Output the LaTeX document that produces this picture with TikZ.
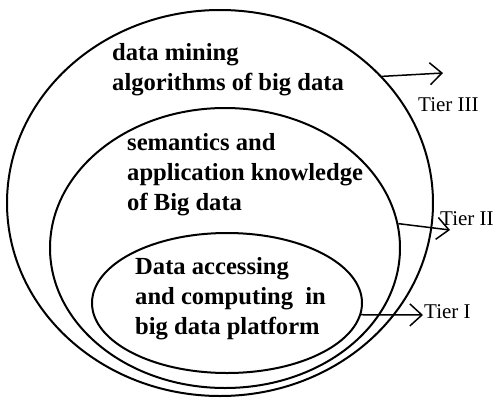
\documentclass[tikz,border=0pt]{standalone}
\usepackage{fontspec}
\setmainfont{Liberation Serif}
\usetikzlibrary{arrows.meta,shapes.geometric}
\tikzset{
  tier/.style={ellipse, draw, line width=2pt, inner sep=0pt},
  tiertext/.style={anchor=north west, align=left, inner sep=0pt, font=\fontsize{24.6}{30}\selectfont\bfseries},
  tierlabel/.style={anchor=base west, inner sep=0pt, font=\fontsize{21}{24}\selectfont},
  tierarrow/.style={line width=1.5pt, -{Straight Barb[length=12pt,width=22pt,line width=1.5pt]}}
}
\begin{document}
\begin{tikzpicture}[x=1pt,y=-1pt]
          \useasboundingbox (0,0) rectangle (496,400);
          \node[tier, minimum width=426pt, minimum height=386pt] (outer) at (220,203) {};
          \node[tier, minimum width=350pt, minimum height=280pt] (middle) at (225,248) {};
          \node[tier, minimum width=270pt, minimum height=140pt] (inner) at (227,303) {};
          \node[tiertext] (mining) at (112,43) {data mining\\algorithms of big data};
          \node[tiertext] (semantics) at (127,133) {semantics and\\application knowledge\\of Big data};
          \node[tiertext] (access) at (135,257) {Data accessing\\and computing~ in\\big data platform};
          \coordinate (t3) at (443,73);
          \coordinate (t2) at (450,230);
          \coordinate (t1) at (423,315);
          \draw[tierarrow] (outer.38) -- (t3);
          \draw[tierarrow] (middle.8) -- (t2);
          \draw[tierarrow] (inner.-5) -- (t1);
          \node[tierlabel] (tierIII) at (418,111) {Tier III};
          \node[tierlabel] (tierII) at (440,225) {Tier II};
          \node[tierlabel] (tierI) at (424,318) {Tier I};
\end{tikzpicture}
\end{document}
